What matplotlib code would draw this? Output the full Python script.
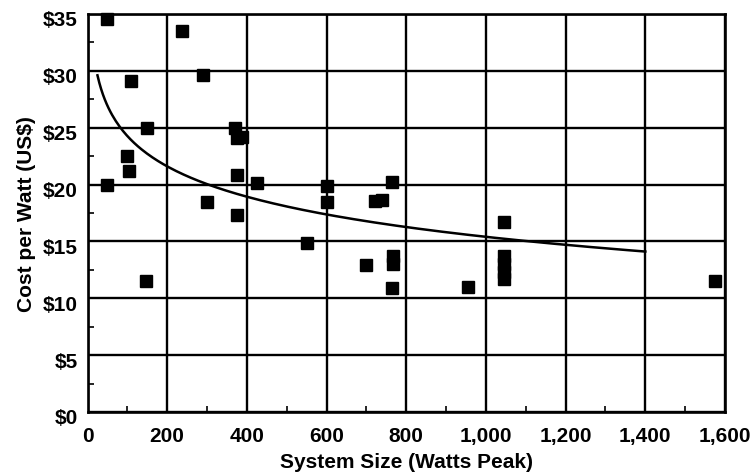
import numpy as np
import matplotlib
matplotlib.use("Agg")
import matplotlib.pyplot as plt
import matplotlib.transforms as mtransforms
from matplotlib.ticker import MultipleLocator, FuncFormatter

# Data
system_size = [48, 238, 110, 289, 150, 371, 374, 389, 100, 103, 50, 374, 426,
               301, 376, 148, 552, 602, 602, 722, 740, 765, 700, 767, 767, 765,
               956, 1046, 1046, 1046, 1046, 1046, 1575]
cost_per_watt = [34.6, 33.5, 29.1, 29.6, 25.0, 25.0, 24.1, 24.2, 22.5, 21.2,
                 20.0, 20.8, 20.1, 18.5, 17.3, 11.5, 14.9, 19.9, 18.5, 18.55,
                 18.6, 20.2, 12.9, 13.7, 13.0, 10.9, 11.0, 16.7, 13.7, 13.0,
                 12.3, 11.7, 11.5]

# Logarithmic trendline (y = a + b*ln x)
trend_a = 42.0
trend_b = -3.85
trend_range = [25, 1400]

x_ticks = [0, 200, 400, 600, 800, 1000, 1200, 1400, 1600]
y_ticks = [0, 5, 10, 15, 20, 25, 30, 35]

plt.rcParams['font.family'] = ['Liberation Sans', 'DejaVu Sans']

fig = plt.figure(figsize=(7.56, 4.77), dpi=100)
ax = fig.add_axes([87.5 / 756, 1 - 413 / 477, (725 - 87.5) / 756, (413 - 15) / 477])

ax.set_xlim(0, 1600)
ax.set_ylim(0, 35)
ax.set_xticks(x_ticks)
ax.set_yticks(y_ticks)
ax.xaxis.set_minor_locator(MultipleLocator(100))
ax.yaxis.set_minor_locator(MultipleLocator(2.5))
ax.xaxis.set_major_formatter(FuncFormatter(lambda v, p: f"{int(v):,}"))
ax.yaxis.set_major_formatter(FuncFormatter(lambda v, p: f"${int(v)}"))

ax.grid(True, which='major', color='black', linewidth=1.7)
ax.set_axisbelow(True)
for s in ax.spines.values():
    s.set_linewidth(1.9)
    s.set_color('black')

ax.tick_params(which='major', direction='in', length=0, labelsize=15)
ax.tick_params(axis='x', which='major', pad=10)
ax.tick_params(axis='y', which='major', pad=7)
ax.tick_params(which='minor', direction='in', length=4, width=1.2)
shift = mtransforms.ScaledTranslation(0, -4 / 100, fig.dpi_scale_trans)
for lab in ax.get_yticklabels():
    lab.set_transform(lab.get_transform() + shift)
for lab in ax.get_xticklabels() + ax.get_yticklabels():
    lab.set_fontweight('bold')

tx = np.linspace(trend_range[0], trend_range[1], 300)
ax.plot(tx, trend_a + trend_b * np.log(tx), color='black', linewidth=1.8, zorder=3)

ax.plot(system_size, cost_per_watt, linestyle='none', marker='s', markersize=8.5,
        color='black', zorder=4, clip_on=False)

ax.set_xlabel("System Size (Watts Peak)", fontsize=15, fontweight='bold', labelpad=5)
ax.set_ylabel("Cost per Watt (US$)", fontsize=15, fontweight='bold', labelpad=5)

fig.savefig("out.png", dpi=100)
